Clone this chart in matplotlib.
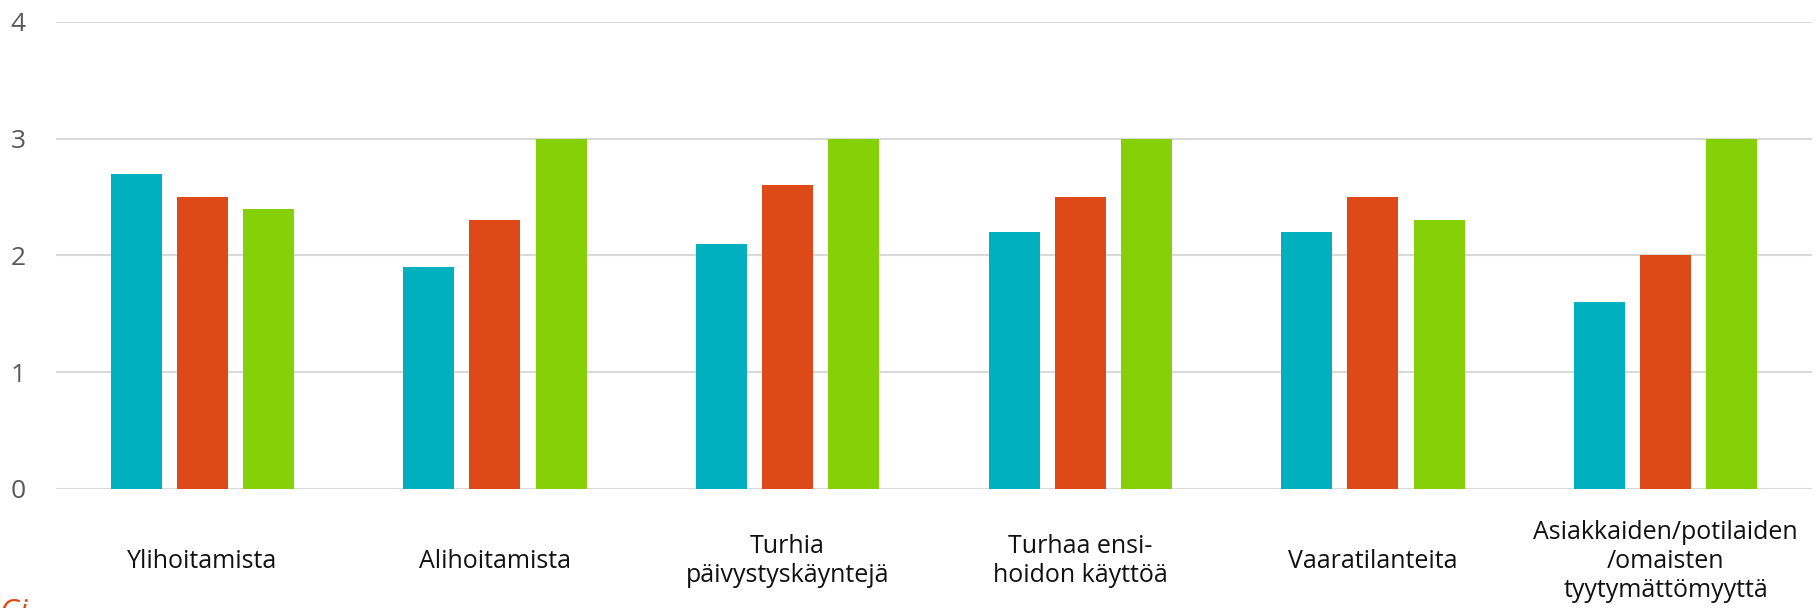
import numpy as np
import matplotlib.pyplot as plt

# category labels (x axis) and the three series values
categories = [
    "Ylihoitamista",
    "Alihoitamista",
    "Turhia\npäivystyskäyntejä",
    "Turhaa ensi-\nhoidon käyttöä",
    "Vaaratilanteita",
    "Asiakkaiden/potilaiden\n/omaisten\ntyytymättömyyttä",
]
series_a = [2.7, 1.9, 2.1, 2.2, 2.2, 1.6]
series_b = [2.5, 2.3, 2.6, 2.5, 2.5, 2.0]
series_c = [2.4, 3.0, 3.0, 3.0, 2.3, 3.0]
y_ticks = [0, 1, 2, 3, 4]

colors = ["#00B0BE", "#DE4A17", "#86D007"]

plt.rcParams["font.family"] = ["Open Sans", "DejaVu Sans"]

fig = plt.figure(figsize=(18.17, 6.08), dpi=100)
ax = fig.add_axes([0.0308, 0.196, 0.9664, 0.768])

x = np.arange(len(categories))
width = 0.174
step = 0.226
for k, (vals, col) in enumerate(zip([series_a, series_b, series_c], colors)):
    ax.bar(x + (k - 1) * step, vals, width=width, color=col, zorder=3)

ax.set_xlim(-0.5, len(categories) - 0.5)
ax.set_ylim(0, 4)
ax.set_yticks(y_ticks)
ax.yaxis.grid(True, color="#D9D9D9", lw=1.5, zorder=0)
ax.set_axisbelow(True)
for s in ax.spines.values():
    s.set_visible(False)
ax.tick_params(axis="y", length=0, pad=22, labelsize=19, labelcolor="#595959")
ax.set_xticks([])

# category labels centred below the plot
for i, lab in enumerate(categories):
    ax.text(i, -0.62, lab, ha="center", va="center", fontsize=18,
            color="#111111", linespacing=1.2,
            transform=ax.transData, clip_on=False)

# stray heading text cut off at the lower edge
fig.text(0.0, 10 / 608, "Gi", ha="left", va="top", fontsize=22,
         color="#E04A17", style="italic")

fig.savefig("out.png", dpi=100)
